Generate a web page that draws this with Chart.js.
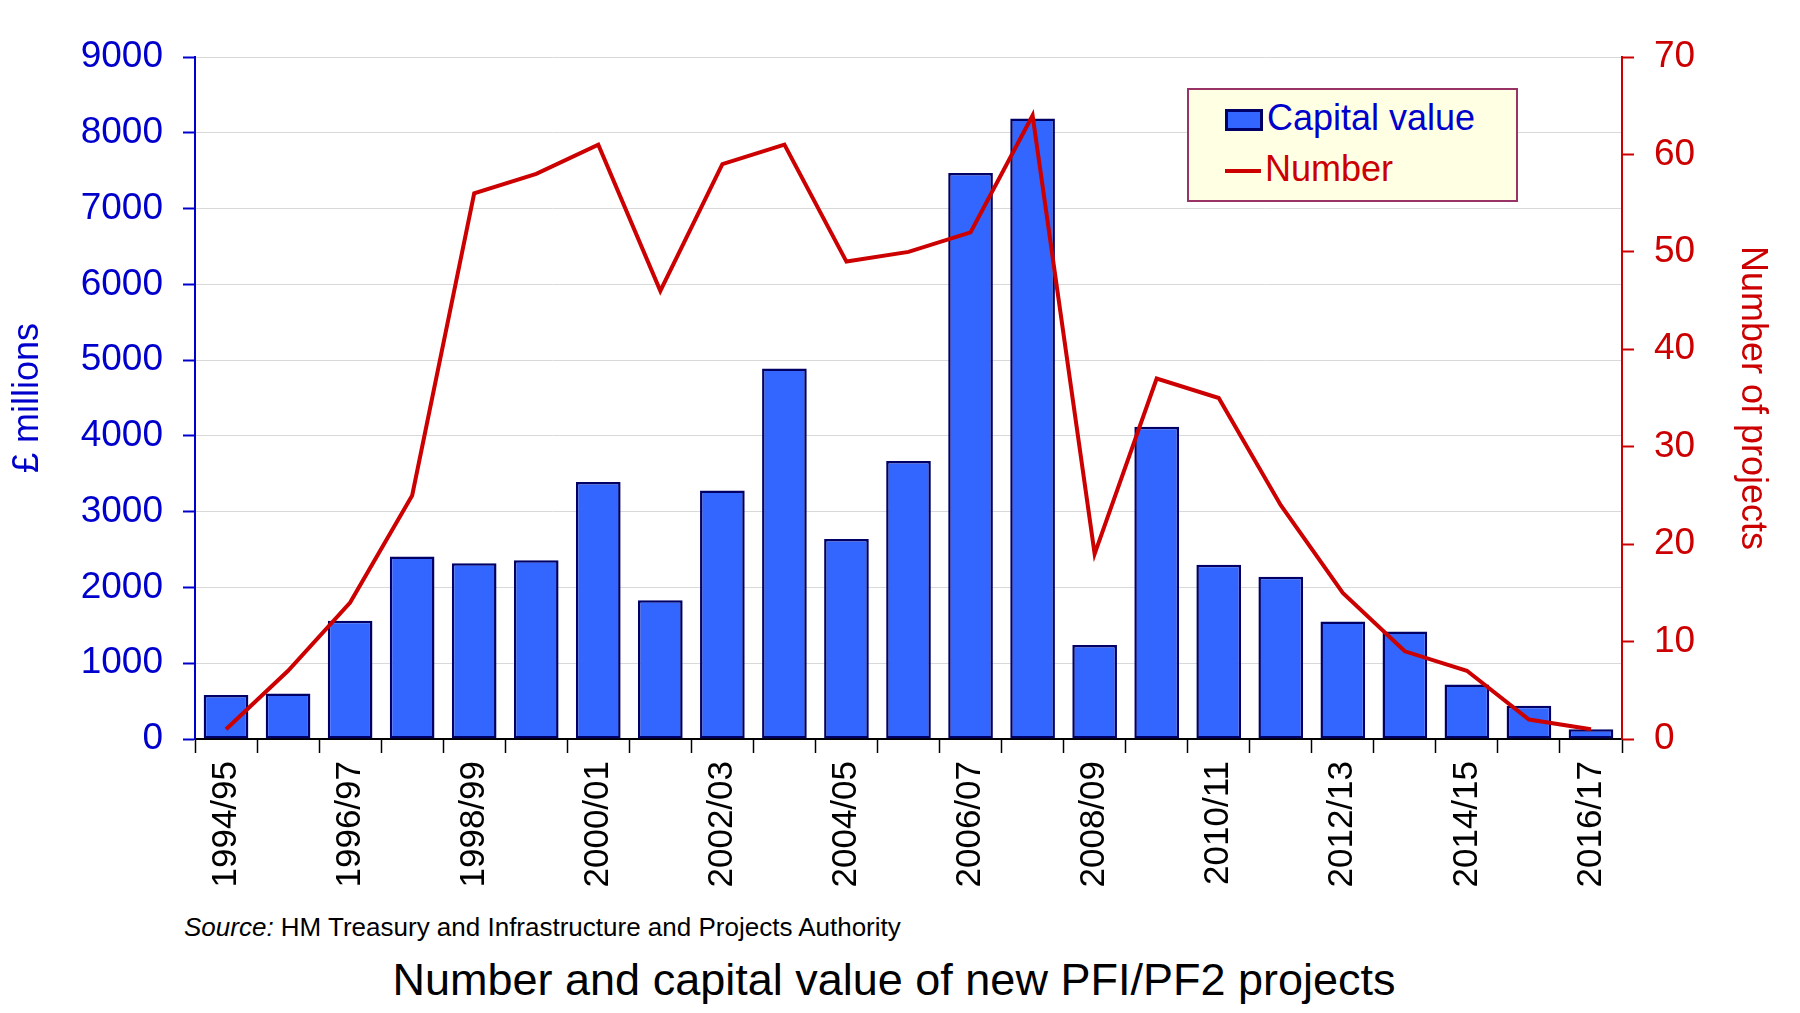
<!DOCTYPE html>
<html>
<head>
<meta charset="utf-8">
<script src="https://cdn.jsdelivr.net/npm/chart.js@4/dist/chart.umd.min.js"></script>
<style>
  html, body { margin: 0; padding: 0; background: #fff; }
  #wrap { position: relative; width: 1800px; height: 1013px; font-family: "Liberation Sans", Arial, sans-serif; }
  #grafico { position: absolute; left: 0; top: 0; }
  #legenda {
    position: absolute; left: 1187px; top: 88px; width: 327px; height: 110px;
    background: #FFFFE3; border: 2px solid #993366;
  }
  .item { position: absolute; left: 36px; font-size: 36px; line-height: 40px; }
  .item .amostra { display: inline-block; width: 36px; vertical-align: middle; margin-right: 4px; }
  #item-barra { top: 8px; color: #0000CC; }
  #item-barra .amostra { height: 16px; background: #3366FF; border: 3px solid #000066; width: 32px; }
  #item-linha { top: 59px; color: #CC0000; }
  #item-linha .amostra { height: 4px; background: #CC0000; }
  #fonte { position: absolute; left: 184px; top: 912px; font-size: 26px; color: #000; }
  #titulo { position: absolute; left: 0; width: 1788px; top: 954px; text-align: center; font-size: 45px; color: #000; }
</style>
</head>
<body>
<div id="wrap">
  <canvas id="grafico" width="1800" height="900"></canvas>
  <div id="legenda">
    <div class="item" id="item-barra"><span class="amostra"></span>Capital value</div>
    <div class="item" id="item-linha"><span class="amostra"></span>Number</div>
  </div>
  <div id="fonte"><i>Source:</i> HM Treasury and Infrastructure and Projects Authority</div>
  <div id="titulo">Number and capital value of new PFI/PF2 projects</div>
</div>
<script>
// Anos fiscais
const anos = [
  '1994/95', '1995/96', '1996/97', '1997/98', '1998/99', '1999/00',
  '2000/01', '2001/02', '2002/03', '2003/04', '2004/05', '2005/06',
  '2006/07', '2007/08', '2008/09', '2009/10', '2010/11', '2011/12',
  '2012/13', '2013/14', '2014/15', '2015/16', '2016/17'
];

// Valor de capital (£ milhões)
const valorCapital = [
  580, 600, 1560, 2410, 2320, 2360, 3390, 1830, 3280, 4890, 2640, 3670,
  7470, 8190, 1240, 4120, 2300, 2140, 1550, 1420, 720, 440, 130
];

// Número de projetos
const numeroProjetos = [
  1, 7, 14, 25, 56, 58, 61, 46, 59, 61, 49, 50,
  52, 64, 19, 37, 35, 24, 15, 9, 7, 2, 1
];

const FONTE = '"Liberation Sans", Arial, sans-serif';
const AZUL = '#0000CC';
const VERMELHO = '#CC0000';

const ctx = document.getElementById('grafico').getContext('2d');
new Chart(ctx, {
  type: 'bar',
  data: {
    labels: anos,
    datasets: [
      {
        type: 'line',
        label: 'Number',
        data: numeroProjetos,
        yAxisID: 'yDir',
        borderColor: VERMELHO,
        borderWidth: 4,
        pointRadius: 0,
        tension: 0,
        order: 0
      },
      {
        type: 'bar',
        label: 'Capital value',
        data: valorCapital,
        yAxisID: 'yEsq',
        backgroundColor: '#3366FF',
        borderColor: '#000066',
        borderWidth: 2.5,
        borderSkipped: false,
        barPercentage: 0.72,
        categoryPercentage: 1,
        order: 1
      }
    ]
  },
  options: {
    responsive: false,
    devicePixelRatio: 1,
    animation: false,
    layout: { padding: { top: 57, left: 0, right: 0, bottom: 0 } },
    plugins: {
      legend: { display: false },
      tooltip: { enabled: false }
    },
    scales: {
      x: {
        offset: true,
        grid: { offset: true, drawOnChartArea: false, tickLength: 14, tickColor: '#000', tickWidth: 1.5 },
        border: { color: '#000', width: 2 },
        ticks: {
          autoSkip: false,
          minRotation: 90,
          maxRotation: 90,
          padding: 8,
          color: '#000',
          font: { family: FONTE, size: 35 },
          callback: function(value, index) {
            return index % 2 === 0 ? this.getLabelForValue(value) : '';
          }
        },
        afterFit: function(scale) { scale.height = 161; }
      },
      yEsq: {
        position: 'left',
        min: 0,
        max: 9000,
        ticks: {
          stepSize: 1000, color: AZUL, padding: 20, font: { family: FONTE, size: 37 },
          callback: function(value) { return String(value); }
        },
        grid: { color: '#D9D9D9', lineWidth: 1, tickColor: AZUL, tickLength: 12, tickWidth: 2 },
        border: { color: AZUL, width: 2 },
        title: { display: true, text: '£ millions', color: AZUL, padding: 6, font: { family: FONTE, size: 36 } },
        afterFit: function(scale) { scale.width = 195; }
      },
      yDir: {
        position: 'right',
        min: 0,
        max: 70,
        ticks: { stepSize: 10, color: VERMELHO, padding: 20, font: { family: FONTE, size: 37 } },
        grid: { drawOnChartArea: false, tickColor: VERMELHO, tickLength: 12, tickWidth: 2 },
        border: { color: VERMELHO, width: 2 },
        title: { display: true, text: 'Number of projects', color: VERMELHO, padding: 26, font: { family: FONTE, size: 36 } },
        afterFit: function(scale) { scale.width = 178; }
      }
    }
  }
});
</script>
</body>
</html>
